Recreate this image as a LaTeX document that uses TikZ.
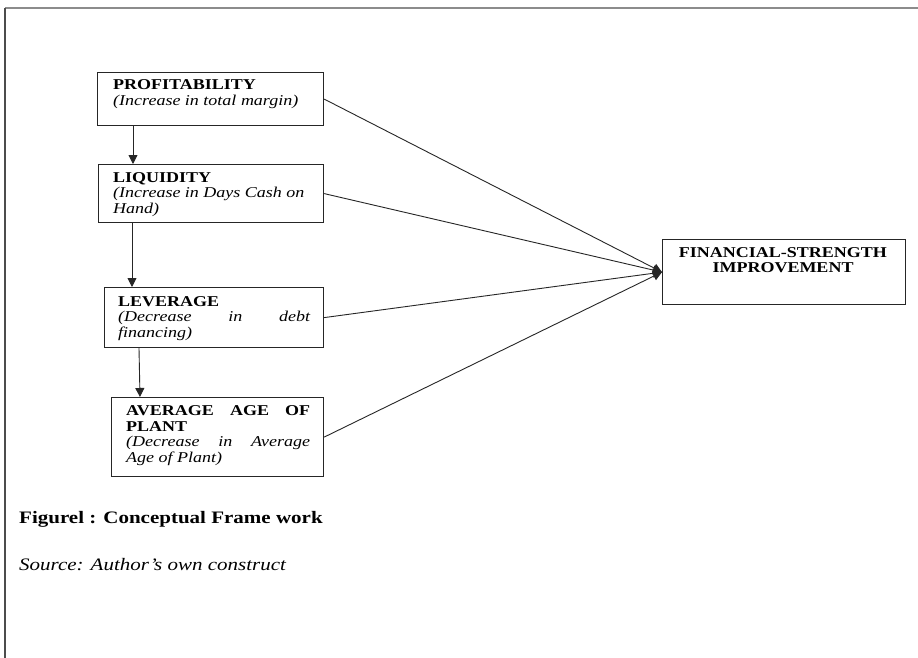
\documentclass[tikz,border=0pt]{standalone}
\usepackage{fontspec}
\setmainfont{Liberation Serif}[FakeStretch=1.2]
\usetikzlibrary{arrows.meta}
\begin{document}
\begin{tikzpicture}[x=1pt,y=-1pt,
  box/.style={draw=black!85, line width=1.2pt, rectangle, anchor=north west, inner sep=0pt},
  txt/.style={anchor=base west, inner sep=0pt, align=left, font=\fontsize{15}{15.5}\selectfont},
  link/.style={draw=black!85, line width=0.9pt, -{Triangle[width=9pt,length=9pt]}}]
\useasboundingbox (0,0) rectangle (918,658);
\fill[white] (0,0) rectangle (918,658);
% frame
\draw[black!45, line width=1.2pt] (5,8) -- (918,8);
\draw[black!70, line width=1.5pt] (5,8) -- (5,658);
% boxes
\node[box, minimum width=226pt, minimum height=53pt] (p) at (97,72) {};
\node[box, minimum width=225pt, minimum height=58pt] (l) at (98,164) {};
\node[box, minimum width=219pt, minimum height=60pt] (v) at (104,287) {};
\node[box, minimum width=212pt, minimum height=79pt] (a) at (111,397) {};
\node[box, minimum width=243pt, minimum height=65pt] (f) at (662,239) {};
% texts (base anchor = last line baseline)
\node[txt] (pt) at (113,105.5) {\textbf{PROFITABILITY}\\\textit{(Increase in total margin)}};
\node[txt] (lt) at (113,213) {\textbf{LIQUIDITY}\\\textit{(Increase in Days Cash on}\\\textit{Hand)}};
\node[txt] (vt) at (118,337) {\textbf{LEVERAGE}\\\textit{\makebox[192pt][s]{(Decrease in debt}}\\\textit{financing)}};
\node[txt] (at) at (126,462) {\textbf{\makebox[184pt][s]{AVERAGE AGE OF}}\\\textbf{PLANT}\\\textit{\makebox[184pt][s]{(Decrease in Average}}\\\textit{Age of Plant)}};
\node[txt, anchor=base, align=center] (ft) at (783,272.5) {\textbf{FINANCIAL-STRENGTH}\\\textbf{IMPROVEMENT}};
% vertical arrows
\draw[link] ([xshift=36pt]p.south west) -- ([xshift=35pt]l.north west);
\draw[link] ([xshift=34pt]l.south west) -- ([xshift=28pt]v.north west);
\draw[link] ([xshift=35pt]v.south west) -- ([xshift=29pt]a.north west);
% to financial strength
\draw[link] (p.east) -- (f.west);
\draw[link] (l.east) -- (f.west);
\draw[link] (v.east) -- (f.west);
\draw[link] (a.east) -- (f.west);
% caption
\node[anchor=base west, inner sep=0pt, font=\fontsize{17.5}{20}\selectfont\bfseries] (cap) at (19,523) {Figurel : Conceptual Frame work};
\node[anchor=base west, inner sep=0pt, font=\fontsize{17.5}{20}\selectfont\itshape] (src) at (19,570) {Source: Author's own construct};
\end{tikzpicture}
\end{document}
